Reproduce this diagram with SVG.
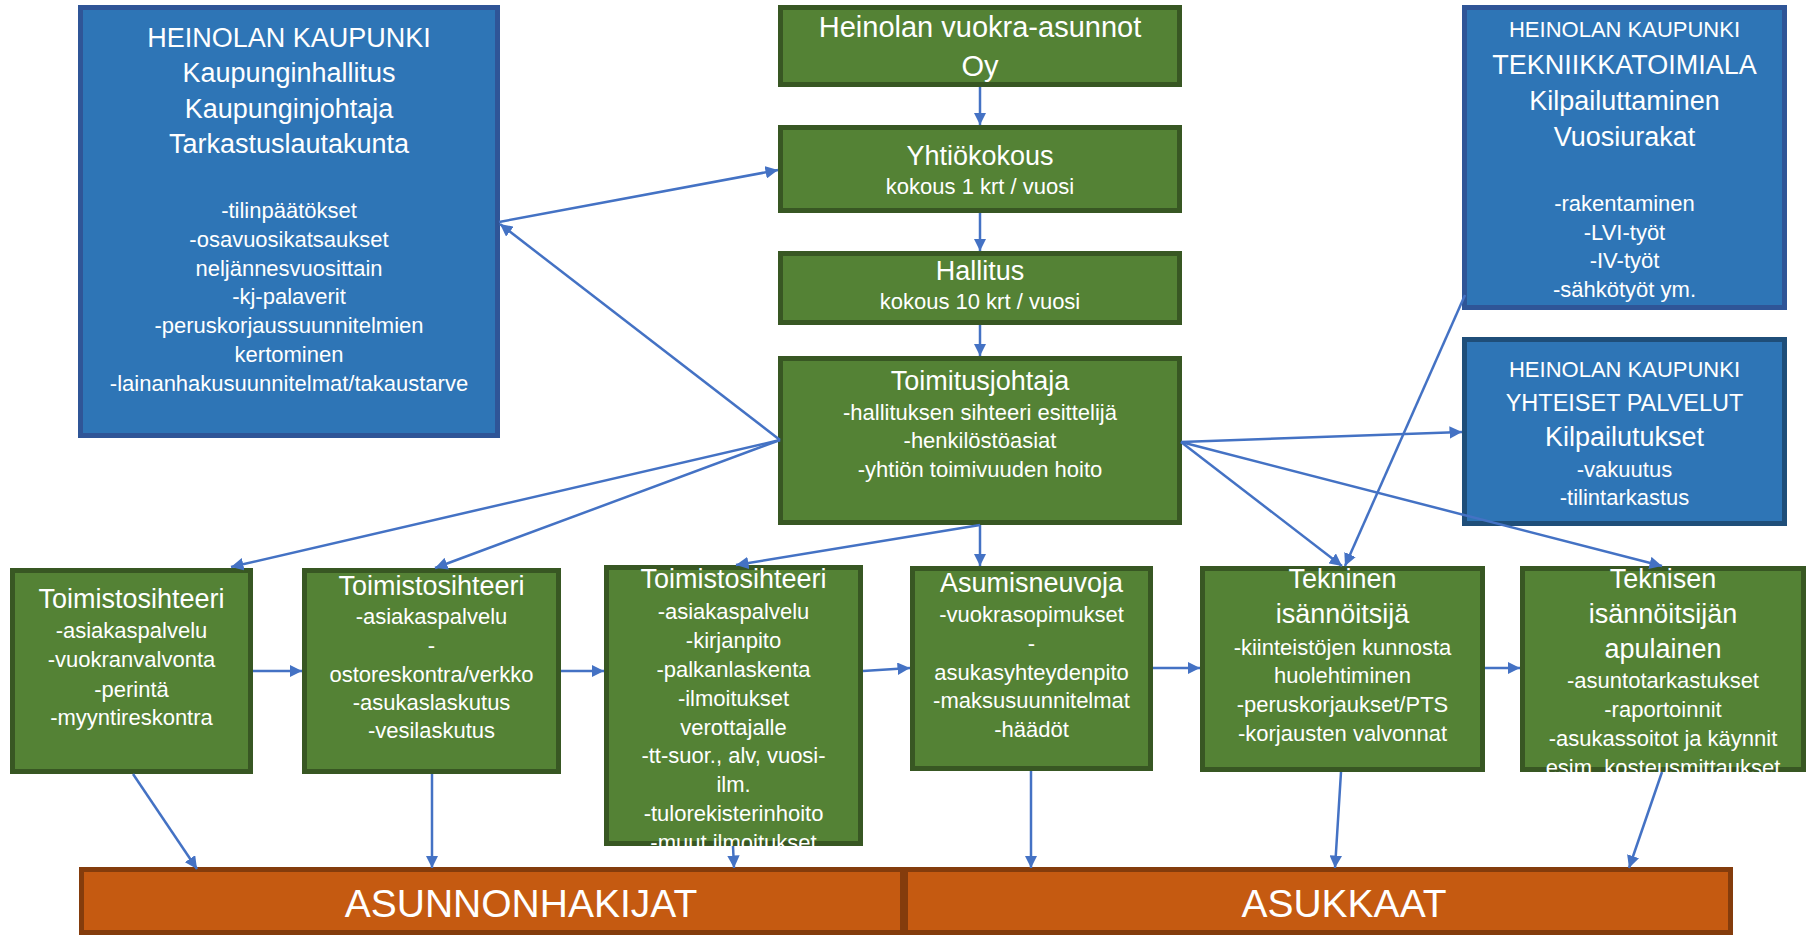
<svg xmlns="http://www.w3.org/2000/svg" width="1812" height="935" viewBox="0 0 1812 935">
<style>
text{font-family:"Liberation Sans",Arial,sans-serif;fill:#fff;text-anchor:middle}
.h{font-size:27px}.d{font-size:22px}.s{font-size:22px}.big{font-size:39px}
.blue{fill:#2E75B6;stroke:#2F5597;stroke-width:5}
.blue2{fill:#2E75B6;stroke:#1F4E79;stroke-width:5}
.green{fill:#548235;stroke:#385723;stroke-width:5}
.orange{fill:#C55A11;stroke:#843C0C;stroke-width:5}
.c{stroke:#4472C4;stroke-width:2.5;fill:none;marker-end:url(#ah)}
</style>
<defs>
<marker id="ah" viewBox="0 0 10 10" refX="10" refY="5" markerWidth="5" markerHeight="5" orient="auto" markerUnits="strokeWidth"><path d="M0,0 L10,5 L0,10 z" fill="#4472C4"/></marker>
<clipPath id="clip3"><rect x="604" y="565" width="259" height="281"/></clipPath>
<clipPath id="clip6"><rect x="1520" y="566" width="286" height="206"/></clipPath>
</defs>
<rect width="1812" height="935" fill="#fff"/>

<g id="kaupunki">
<rect class="blue" x="80.5" y="7.5" width="417" height="428"/>
<text class="h" x="289" y="47">HEINOLAN KAUPUNKI</text>
<text class="h" x="289" y="82">Kaupunginhallitus</text>
<text class="h" x="289" y="118">Kaupunginjohtaja</text>
<text class="h" x="289" y="153">Tarkastuslautakunta</text>
<text class="d" x="289" y="218">-tilinpäätökset</text>
<text class="d" x="289" y="247">-osavuosikatsaukset</text>
<text class="d" x="289" y="276">neljännesvuosittain</text>
<text class="d" x="289" y="304">-kj-palaverit</text>
<text class="d" x="289" y="333">-peruskorjaussuunnitelmien</text>
<text class="d" x="289" y="362">kertominen</text>
<text class="d" x="289" y="391">-lainanhakusuunnitelmat/takaustarve</text>
</g>

<g id="yhtio">
<rect class="green" x="780.5" y="7.5" width="399" height="77"/>
<text x="980" y="37" style="font-size:29px">Heinolan vuokra-asunnot</text>
<text x="980" y="76" style="font-size:29px">Oy</text>
</g>

<g id="yhtiokokous">
<rect class="green" x="780.5" y="127.5" width="399" height="83"/>
<text class="h" x="980" y="165">Yhtiökokous</text>
<text class="d" x="980" y="194">kokous 1 krt / vuosi</text>
</g>

<g id="hallitus">
<rect class="green" x="780.5" y="253.5" width="399" height="69"/>
<text class="h" x="980" y="280">Hallitus</text>
<text class="d" x="980" y="309">kokous 10 krt / vuosi</text>
</g>

<g id="toimitusjohtaja">
<rect class="green" x="780.5" y="358.5" width="399" height="164"/>
<text class="h" x="980" y="390">Toimitusjohtaja</text>
<text class="d" x="980" y="420">-hallituksen sihteeri esittelijä</text>
<text class="d" x="980" y="448">-henkilöstöasiat</text>
<text class="d" x="980" y="477">-yhtiön toimivuuden hoito</text>
</g>

<g id="tekniikkatoimiala">
<rect class="blue" x="1464.5" y="7.5" width="320" height="300"/>
<text class="s" x="1624.5" y="37">HEINOLAN KAUPUNKI</text>
<text class="h" x="1624.5" y="74">TEKNIIKKATOIMIALA</text>
<text class="h" x="1624.5" y="110">Kilpailuttaminen</text>
<text class="h" x="1624.5" y="146">Vuosiurakat</text>
<text class="d" x="1624.5" y="211">-rakentaminen</text>
<text class="d" x="1624.5" y="240">-LVI-työt</text>
<text class="d" x="1624.5" y="268">-IV-työt</text>
<text class="d" x="1624.5" y="297">-sähkötyöt ym.</text>
</g>

<g id="yhteiset">
<rect class="blue2" x="1464.5" y="339.5" width="320" height="184"/>
<text class="s" x="1624.5" y="377">HEINOLAN KAUPUNKI</text>
<text x="1624.5" y="411" style="font-size:23.5px">YHTEISET PALVELUT</text>
<text class="h" x="1624.5" y="446">Kilpailutukset</text>
<text class="d" x="1624.5" y="477">-vakuutus</text>
<text class="d" x="1624.5" y="505">-tilintarkastus</text>
</g>

<g id="sihteeri1">
<rect class="green" x="12.5" y="570.5" width="238" height="201"/>
<text class="h" x="131.5" y="608">Toimistosihteeri</text>
<text class="d" x="131.5" y="638">-asiakaspalvelu</text>
<text class="d" x="131.5" y="667">-vuokranvalvonta</text>
<text class="d" x="131.5" y="697">-perintä</text>
<text class="d" x="131.5" y="725">-myyntireskontra</text>
</g>

<g id="sihteeri2">
<rect class="green" x="304.5" y="570.5" width="254" height="201"/>
<text class="h" x="431.5" y="595">Toimistosihteeri</text>
<text class="d" x="431.5" y="624">-asiakaspalvelu</text>
<text class="d" x="431.5" y="653">-</text>
<text class="d" x="431.5" y="682">ostoreskontra/verkko</text>
<text class="d" x="431.5" y="710">-asukaslaskutus</text>
<text class="d" x="431.5" y="738">-vesilaskutus</text>
</g>

<g id="sihteeri3">
<rect class="green" x="606.5" y="567.5" width="254" height="276"/>
<g clip-path="url(#clip3)">
<text class="h" x="733.5" y="588">Toimistosihteeri</text>
<text class="d" x="733.5" y="619">-asiakaspalvelu</text>
<text class="d" x="733.5" y="648">-kirjanpito</text>
<text class="d" x="733.5" y="677">-palkanlaskenta</text>
<text class="d" x="733.5" y="706">-ilmoitukset</text>
<text class="d" x="733.5" y="735">verottajalle</text>
<text class="d" x="733.5" y="763">-tt-suor., alv, vuosi-</text>
<text class="d" x="733.5" y="792">ilm.</text>
<text class="d" x="733.5" y="821">-tulorekisterinhoito</text>
<text class="d" x="733.5" y="850">-muut ilmoitukset</text>
</g>
</g>

<g id="asumisneuvoja">
<rect class="green" x="912.5" y="568.5" width="238" height="200"/>
<text class="h" x="1031.5" y="592">Asumisneuvoja</text>
<text class="d" x="1031.5" y="622">-vuokrasopimukset</text>
<text class="d" x="1031.5" y="651">-</text>
<text class="d" x="1031.5" y="680">asukasyhteydenpito</text>
<text class="d" x="1031.5" y="708">-maksusuunnitelmat</text>
<text class="d" x="1031.5" y="737">-häädöt</text>
</g>

<g id="isannoitsija">
<rect class="green" x="1202.5" y="568.5" width="280" height="201"/>
<text class="h" x="1342.5" y="588">Tekninen</text>
<text class="h" x="1342.5" y="623">isännöitsijä</text>
<text class="d" x="1342.5" y="655">-kiinteistöjen kunnosta</text>
<text class="d" x="1342.5" y="683">huolehtiminen</text>
<text class="d" x="1342.5" y="712">-peruskorjaukset/PTS</text>
<text class="d" x="1342.5" y="741">-korjausten valvonnat</text>
</g>

<g id="apulainen">
<rect class="green" x="1522.5" y="568.5" width="281" height="201"/>
<g clip-path="url(#clip6)">
<text class="h" x="1663" y="588">Teknisen</text>
<text class="h" x="1663" y="623">isännöitsijän</text>
<text class="h" x="1663" y="658">apulainen</text>
<text class="d" x="1663" y="688">-asuntotarkastukset</text>
<text class="d" x="1663" y="717">-raportoinnit</text>
<text class="d" x="1663" y="746">-asukassoitot ja käynnit</text>
<text class="d" x="1663" y="775">esim. kosteusmittaukset</text>
</g>
</g>

<g id="asunnonhakijat">
<rect class="orange" x="81.5" y="869.5" width="821" height="63"/>
<text class="big" x="521" y="917">ASUNNONHAKIJAT</text>
</g>

<g id="asukkaat">
<rect class="orange" x="905.5" y="869.5" width="825" height="63"/>
<text class="big" x="1344" y="917">ASUKKAAT</text>
</g>

<g id="connectors">
<path class="c" d="M980,87 L980,125"/>
<path class="c" d="M980,213 L980,251"/>
<path class="c" d="M980,325 L980,356"/>
<path class="c" d="M499,222 L778,170"/>
<path class="c" d="M780,440 L500,224"/>
<path class="c" d="M780,440 L231,567"/>
<path class="c" d="M780,440 L435,568"/>
<path class="c" d="M980,525 L736,565"/>
<path class="c" d="M980,525 L980,566"/>
<path class="c" d="M1181,442 L1462,432"/>
<path class="c" d="M1181,442 L1342,566"/>
<path class="c" d="M1181,442 L1662,566"/>
<path class="c" d="M1465,295 L1345,566"/>
<path class="c" d="M253,671 L302,671"/>
<path class="c" d="M561,671 L604,671"/>
<path class="c" d="M863,671 L910,668"/>
<path class="c" d="M1153,668 L1200,668"/>
<path class="c" d="M1485,668 L1520,668"/>
<path class="c" d="M133,774 L197,869"/>
<path class="c" d="M432,774 L432,868"/>
<path class="c" d="M733,846 L734,868"/>
<path class="c" d="M1031,771 L1031,868"/>
<path class="c" d="M1341,772 L1335,868"/>
<path class="c" d="M1662,772 L1629,868"/>
</g>
</svg>
